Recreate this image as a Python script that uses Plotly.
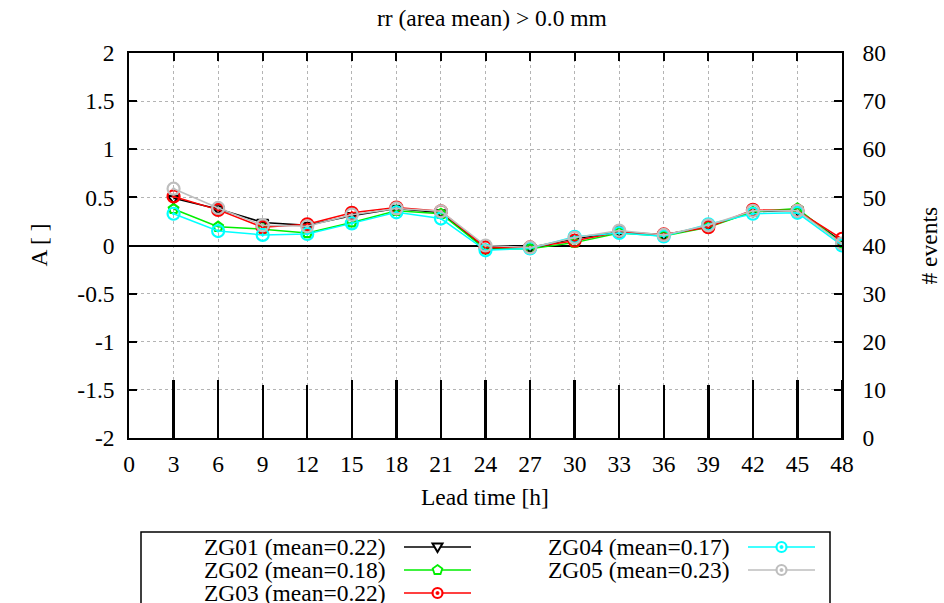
import plotly.graph_objects as go

lead = [3, 6, 9, 12, 15, 18, 21, 24, 27, 30, 33, 36, 39, 42, 45, 48]
zg01 = [0.49, 0.38, 0.24, 0.21, 0.31, 0.385, 0.34, -0.03, -0.02, 0.07, 0.14, 0.11, 0.20, 0.35, 0.37, 0.04]
zg02 = [0.38, 0.195, 0.17, 0.13, 0.24, 0.36, 0.33, -0.04, -0.035, 0.03, 0.13, 0.10, 0.19, 0.35, 0.385, 0.02]
zg03 = [0.51, 0.37, 0.19, 0.22, 0.34, 0.395, 0.355, -0.02, -0.02, 0.05, 0.14, 0.115, 0.19, 0.37, 0.36, 0.07]
zg04 = [0.33, 0.15, 0.11, 0.12, 0.23, 0.345, 0.28, -0.05, -0.03, 0.09, 0.13, 0.095, 0.22, 0.33, 0.34, 0.0]
zg05 = [0.59, 0.39, 0.21, 0.20, 0.32, 0.385, 0.355, 0.0, -0.02, 0.08, 0.155, 0.11, 0.21, 0.36, 0.36, 0.02]
events = [12, 12, 11, 11, 12, 12, 12, 12, 12, 12, 11, 11, 11, 12, 12, 12]

names = ["ZG01 (mean=0.22)", "ZG02 (mean=0.18)", "ZG03 (mean=0.22)",
         "ZG04 (mean=0.17)", "ZG05 (mean=0.23)"]
x_ticks = list(range(0, 49, 3))
y_ticks = [-2, -1.5, -1, -0.5, 0, 0.5, 1, 1.5, 2]
y_ticklabels = ["-2", "-1.5", "-1", "-0.5", "0", "0.5", "1", "1.5", "2"]
y2_ticks = [0, 10, 20, 30, 40, 50, 60, 70, 80]

series = [zg01, zg02, zg03, zg04, zg05]
colors = ["#000000", "#00ee00", "#ff0000", "#00ffff", "#bebebe"]
symbols = ["triangle-down-open", "pentagon-open", "circle-open-dot", "circle-open-dot", "circle-open-dot"]
msizes = [10, 10, 12, 12, 12]

FONT = "'Liberation Serif', 'Times New Roman', Times, serif"
FS = 23.5
W, H = 944, 603
L, R, T, B = 129, 842, 53, 438


def px(x):
    return (x - L) / (R - L)


def py(y):
    return (B - y) / (B - T)


fig = go.Figure()

fig.add_trace(go.Bar(x=lead, y=events, yaxis="y2", width=0.16,
                     marker=dict(color="#000000", line=dict(width=0)),
                     showlegend=False, hoverinfo="skip"))

for s, c, sym, ms, n in zip(series, colors, symbols, msizes, names):
    fig.add_trace(go.Scatter(x=lead, y=s, mode="lines+markers", name=n,
                             line=dict(color=c, width=1.5),
                             marker=dict(symbol=sym, size=ms, color=c,
                                         line=dict(color=c, width=2.2)),
                             showlegend=False))

shapes = []
annotations = []

# legend box
shapes.append(dict(type="rect", xref="paper", yref="paper",
                   x0=px(141), x1=px(830), y0=py(625), y1=py(532),
                   line=dict(color="#000000", width=1.5), fillcolor="rgba(0,0,0,0)"))

legend_pos = [(388, 404, 471, 547), (388, 404, 471, 570), (388, 404, 471, 593),
              (732, 748, 815, 547), (732, 748, 815, 570)]
for (tx, lx0, lx1, ly), c, sym, n in zip(legend_pos, colors, symbols, names):
    annotations.append(dict(text=n, xref="paper", yref="paper", x=px(tx), y=py(ly),
                            xanchor="right", yanchor="middle", showarrow=False,
                            font=dict(family=FONT, size=FS, color="#000000")))
    shapes.append(dict(type="line", xref="paper", yref="paper",
                       x0=px(lx0), x1=px(lx1), y0=py(ly), y1=py(ly),
                       line=dict(color=c, width=1.5)))
    cx, cy = px((lx0 + lx1) / 2), py(ly)
    if sym.startswith("circle"):
        shapes.append(dict(type="circle", xref="paper", yref="paper",
                           xsizemode="pixel", ysizemode="pixel", xanchor=cx, yanchor=cy,
                           x0=-5, x1=5, y0=-5, y1=5,
                           line=dict(color=c, width=2.2), fillcolor="#ffffff"))
        shapes.append(dict(type="circle", xref="paper", yref="paper",
                           xsizemode="pixel", ysizemode="pixel", xanchor=cx, yanchor=cy,
                           x0=-1.5, x1=1.5, y0=-1.5, y1=1.5,
                           line=dict(color=c, width=1), fillcolor=c))
    elif sym.startswith("triangle"):
        shapes.append(dict(type="path", xref="paper", yref="paper",
                           xsizemode="pixel", ysizemode="pixel", xanchor=cx, yanchor=cy,
                           path="M -5 3.5 L 5 3.5 L 0 -5 Z",
                           line=dict(color=c, width=2), fillcolor="#ffffff"))
    else:
        shapes.append(dict(type="path", xref="paper", yref="paper",
                           xsizemode="pixel", ysizemode="pixel", xanchor=cx, yanchor=cy,
                           path="M 0 5 L 4.8 1.5 L 3 -4 L -3 -4 L -4.8 1.5 Z",
                           line=dict(color=c, width=1.8), fillcolor="#ffffff"))

annotations.append(dict(text="rr (area mean) > 0.0 mm", xref="paper", yref="paper",
                        x=px(492), y=py(18), xanchor="center", yanchor="middle", showarrow=False,
                        font=dict(family=FONT, size=FS, color="#000000")))
annotations.append(dict(text="Lead time [h]", xref="paper", yref="paper",
                        x=px(485), y=py(497), xanchor="center", yanchor="middle", showarrow=False,
                        font=dict(family=FONT, size=FS, color="#000000")))
annotations.append(dict(text="A [ ]", xref="paper", yref="paper", textangle=-90,
                        x=px(38), y=0.5, xanchor="center", yanchor="middle", showarrow=False,
                        font=dict(family=FONT, size=FS, color="#000000")))
annotations.append(dict(text="# events", xref="paper", yref="paper", textangle=-90,
                        x=px(928), y=0.5, xanchor="center", yanchor="middle", showarrow=False,
                        font=dict(family=FONT, size=FS, color="#000000")))

tickfont = dict(family=FONT, size=FS, color="#000000")

fig.update_layout(
    width=W, height=H,
    margin=dict(l=L, r=W - R, t=T, b=H - B, pad=0),
    paper_bgcolor="#ffffff", plot_bgcolor="#ffffff",
    showlegend=False,
    bargap=0,
    xaxis=dict(range=[0, 48], tickmode="array", tickvals=x_ticks,
               ticks="inside", ticklen=8, tickwidth=1.5, tickcolor="#000000",
               showline=True, linecolor="#000000", linewidth=1.5, mirror="ticks",
               showgrid=True, gridcolor="#b4b4b4", griddash="dot", gridwidth=1,
               zeroline=False, tickfont=tickfont, ticklabelstandoff=4,
               fixedrange=True),
    yaxis=dict(range=[-2, 2], tickmode="array", tickvals=y_ticks, ticktext=y_ticklabels,
               ticks="inside", ticklen=8, tickwidth=1.5, tickcolor="#000000",
               showline=True, linecolor="#000000", linewidth=1.5, mirror=True,
               showgrid=True, gridcolor="#b4b4b4", griddash="dot", gridwidth=1,
               zeroline=True, zerolinecolor="#000000", zerolinewidth=1.5,
               tickfont=tickfont, ticklabelstandoff=8, fixedrange=True),
    yaxis2=dict(range=[0, 80], tickmode="array", tickvals=y2_ticks,
                overlaying="y", side="right",
                ticks="inside", ticklen=8, tickwidth=1.5, tickcolor="#000000",
                showline=True, linecolor="#000000", linewidth=1.5,
                showgrid=False, zeroline=False, tickfont=tickfont,
                ticklabelstandoff=14, fixedrange=True),
    shapes=shapes,
    annotations=annotations,
)

fig.write_html("out.html")
